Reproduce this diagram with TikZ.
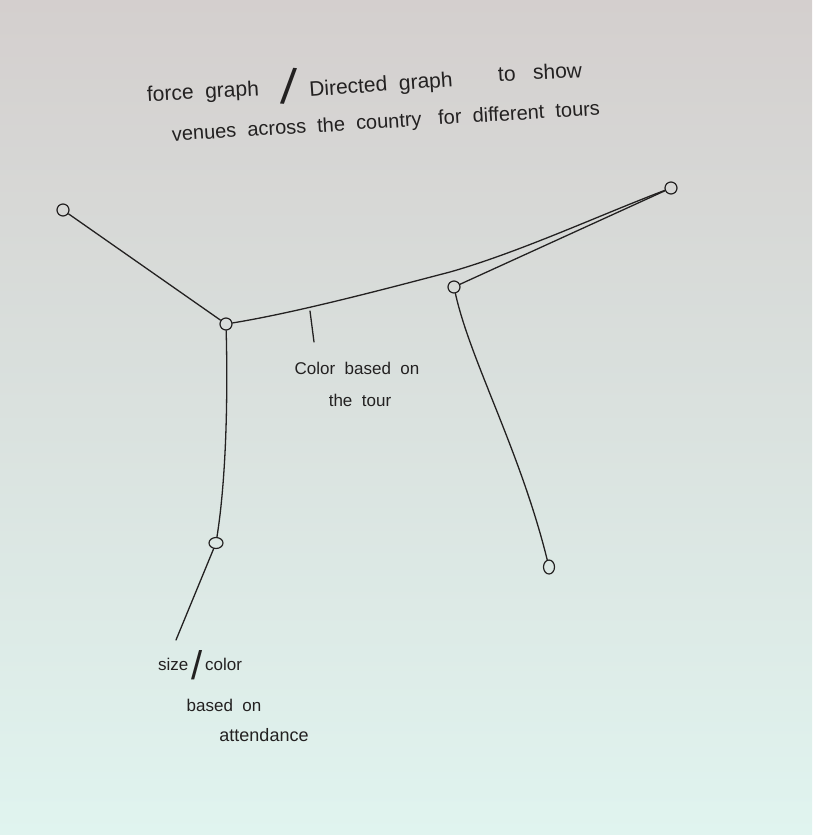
\documentclass[tikz,border=0pt]{standalone}
\usepackage{fontspec}
\usetikzlibrary{shapes.geometric}
\setmainfont{Liberation Sans}
\definecolor{paperTop}{RGB}{212,207,206}
\definecolor{paperMid}{RGB}{232,233,231}
\definecolor{paperBot}{RGB}{224,244,239}
\definecolor{inkc}{RGB}{35,33,33}
\begin{document}
\begin{tikzpicture}[x=1pt,y=-1pt,
  ink/.style={draw=inkc, line width=1.3pt, line cap=round, line join=round},
  venue/.style={ellipse, draw=inkc, line width=1.2pt, minimum width=12pt, minimum height=12pt, inner sep=0pt},
  hand/.style={text=inkc, inner sep=0pt, font=\fontsize{17}{20}\selectfont}]
\shade[top color=paperTop, middle color=paperMid, bottom color=paperBot] (0,0) rectangle (812,835);
\useasboundingbox (0,0) rectangle (812,835);
% title
\node[hand, rotate=3, font=\fontsize{21}{24}\selectfont] (t1) at (203,93) {force \ graph};
\node[hand, rotate=-5, font=\fontsize{50}{54}\selectfont] (t2) at (289,86) {/};
\node[hand, rotate=4, font=\fontsize{21}{24}\selectfont] (t3) at (381,86) {Directed \ graph};
\node[hand, rotate=3, font=\fontsize{21}{24}\selectfont] (t4) at (540,72) {to \ \ show};
\node[hand, rotate=3.5, font=\fontsize{20}{24}\selectfont] (t5) at (386,123) {venues \ across \ the \ country \ \ for \ different \ tours};
% venues
\node[venue] (A) at (63,210) {};
\node[venue] (B) at (226,324) {};
\node[venue] (C) at (671,188) {};
\node[venue] (D) at (454,287) {};
\node[venue, minimum width=14pt, minimum height=11pt] (E) at (216,543) {};
\node[venue, minimum width=11pt, minimum height=14pt] (F) at (549,567) {};
\coordinate (P1) at (310,311);
\coordinate (P1e) at (314,342);
\coordinate (P2) at (176,640);
% edges
\draw[ink] (A) -- (B);
\draw[ink] (B) .. controls (300,312) and (400,285) .. (450,272) .. controls (520,252) and (600,215) .. (C);
\draw[ink] (D) -- (C);
\draw[ink] (D) .. controls (470,360) and (520,450) .. (F);
\draw[ink] (B) .. controls (228,400) and (226,480) .. (E);
\draw[ink] (E) -- (P2);
\draw[ink] (P1) -- (P1e);
% annotations
\node[hand] (n1) at (357,368) {Color \ based \ on};
\node[hand] (n2) at (360,400) {the \ tour};
\node[hand] (n3) at (200,665) {size\,\raisebox{-9pt}{\fontsize{40}{42}\selectfont/}\,color};
\node[hand] (n4) at (224,705) {based \ on};
\node[hand, font=\fontsize{18}{22}\selectfont] (n5) at (264,735) {attendance};
\end{tikzpicture}
\end{document}
